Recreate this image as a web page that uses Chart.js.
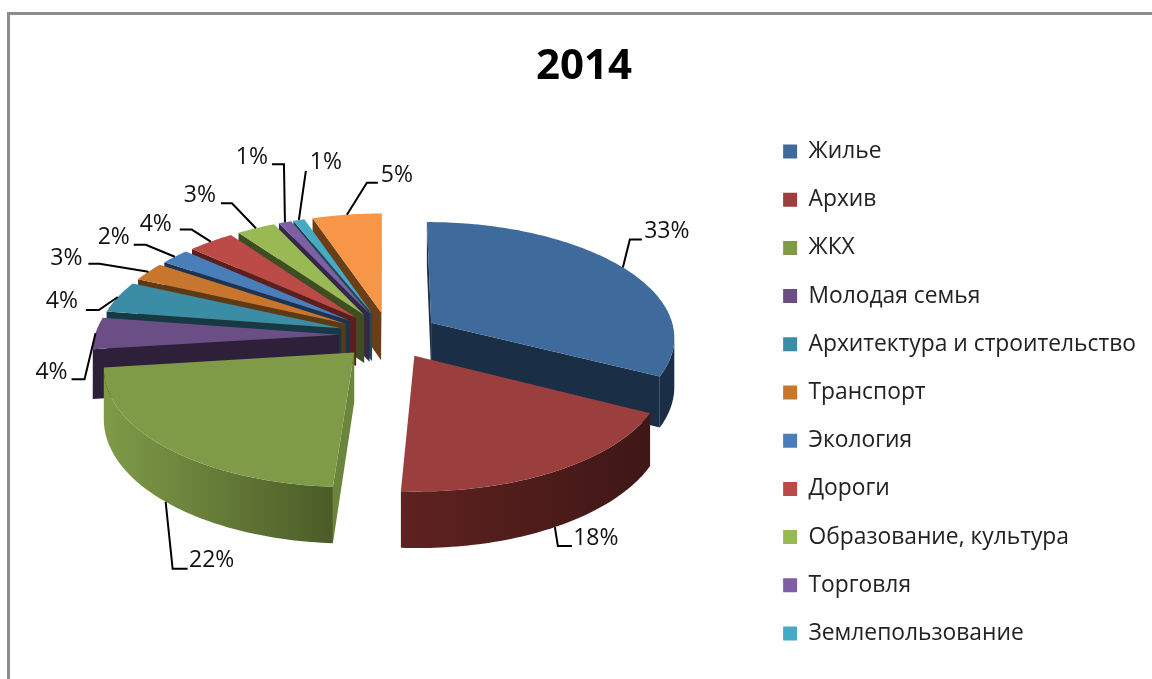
<!DOCTYPE html>
<html>
<head>
<meta charset="utf-8">
<title>2014</title>
<script src="https://cdn.jsdelivr.net/npm/chart.js@4"></script>
<style>
  html, body { margin: 0; padding: 0; background: #fff; overflow: hidden; }
  #frame { position: absolute; left: 7px; top: 12px; width: 1145px; height: 667px; box-sizing: border-box;
           border-left: 3px solid #8c8c8c; border-top: 3px solid #8c8c8c; }
  #pie { position: absolute; left: 0; top: 0; }
</style>
</head>
<body>
<div id="frame"></div>
<canvas id="pie" width="1152" height="679"></canvas>
<script>
const categories = ["Жилье", "Архив", "ЖКХ", "Молодая семья", "Архитектура и строительство", "Транспорт",
  "Экология", "Дороги", "Образование, культура", "Торговля", "Землепользование", ""];
// printed labels are whole percents, the slice widths read a bit finer than that
const shares = [32.5, 18.45, 22.05, 4.4, 4.4, 2.6, 2.2, 3.5, 2.9, 0.95, 0.85, 5.2];

const topColors = ["#3f6a9c", "#9a3f3d", "#7f9b48", "#6b4e85", "#3b8da5", "#c8762e",
  "#4a7ebb", "#bc4b48", "#98b954", "#7e5fa3", "#46aac4", "#f79646"];
const wallLeft = ["#1a2e46", "#5e2220", "#7f9b48", "#2e2038", "#173944", "#5e3a14",
  "#1c3450", "#5a1f1e", "#3e4d22", "#35274a", "#1d4a55", "#6a3f18"];
const wallRight = ["#1a2e46", "#3f1716", "#4b5c28", "#2e2038", "#173944", "#5e3a14",
  "#1c3450", "#5a1f1e", "#3e4d22", "#35274a", "#1d4a55", "#6a3f18"];
const cutColors = ["#1a2e46", "#451a19", "#6c853c", "#2e2038", "#173944", "#5e3a14",
  "#1c3450", "#5a1f1e", "#3e4d22", "#35274a", "#1d4a55", "#6a3f18"];

// leader line for each label: elbow and end relative to the slice edge, then text relative to the end
const leaderElbow = [[7,-28],[3,19],[7,67],[-11,46],[-19,13],[-49,-8],[-29,-12],[-19,-12],[-24,-25],[-1,-58],[7,-49],[20,-32]];
const leaderEnd = [[19,-28],[17,19],[22,67],[-24,46],[-32,13],[-60,-8],[-41,-12],[-31,-12],[-35,-25],[-13,-58],[7,-49],[31,-32]];
const labelShift = [[25,-8],[24,-8],[24,-8],[-20,-7],[-24,-9],[-22,-5],[-20,-7],[-24,-5],[-21,-8],[-20,-7],[20,-8],[19,-7]];

// view of the pie: centre on the page, tilt, camera distance, thickness
const view = { cx: 389, cy: 335, tilt: 0.471, camera: 2136, depth: 49 };
const legendShift = { x: -6, y: 53 };

function project(u, v) {
  const s = view.camera / (view.camera - v);
  return { x: view.cx + u * s, y: view.cy + view.tilt * v * s, drop: view.depth * s };
}

function fillWall(ctx, pts, fill) {
  ctx.beginPath();
  pts.forEach(function(p, i) { i ? ctx.lineTo(p.x, p.y) : ctx.moveTo(p.x, p.y); });
  for (let i = pts.length - 1; i >= 0; i--) ctx.lineTo(pts[i].x, pts[i].y + pts[i].drop);
  ctx.closePath();
  ctx.fillStyle = fill;
  ctx.fill();
}

function sliceGeometry(arc) {
  const mid = (arc.startAngle + arc.endAngle) / 2;
  const shift = arc.options.offset / 4;
  const ox = Math.cos(mid) * shift, oy = Math.sin(mid) * shift;
  const r = arc.outerRadius;
  const outer = [];
  const steps = Math.max(2, Math.ceil((arc.endAngle - arc.startAngle) / 0.02));
  for (let i = 0; i <= steps; i++) {
    const a = arc.startAngle + (arc.endAngle - arc.startAngle) * i / steps;
    outer.push(project(ox + Math.cos(a) * r, oy + Math.sin(a) * r));
  }
  return { apex: project(ox, oy), outer: outer, mid: project(ox + Math.cos(mid) * r, oy + Math.sin(mid) * r), front: Math.sin(mid) };
}

function drawSlice(ctx, arc, i) {
  const g = sliceGeometry(arc);
  const first = g.outer[0], last = g.outer[g.outer.length - 1];

  // faces looking to the viewer are the ones whose top edge runs right to left
  if (first.x < g.apex.x) fillWall(ctx, [g.apex, first], cutColors[i]);
  if (last.x > g.apex.x) fillWall(ctx, [last, g.apex], cutColors[i]);

  let run = [];
  const flush = function() {
    if (run.length > 1) {
      const xs = run.map(function(p) { return p.x; });
      const grad = ctx.createLinearGradient(Math.min.apply(null, xs), 0, Math.max.apply(null, xs), 0);
      grad.addColorStop(0, wallLeft[i]);
      grad.addColorStop(1, wallRight[i]);
      fillWall(ctx, run, grad);
    }
    run = [];
  };
  for (let k = 0; k < g.outer.length - 1; k++) {
    if (g.outer[k + 1].x < g.outer[k].x) {
      if (!run.length) run.push(g.outer[k]);
      run.push(g.outer[k + 1]);
    } else {
      flush();
    }
  }
  flush();

  ctx.beginPath();
  ctx.moveTo(g.apex.x, g.apex.y);
  g.outer.forEach(function(p) { ctx.lineTo(p.x, p.y); });
  ctx.closePath();
  ctx.fillStyle = topColors[i];
  ctx.fill();
}

function drawLabel(ctx, arc, i) {
  const g = sliceGeometry(arc);
  const sx = g.mid.x;
  const sy = g.front > 0.5 ? g.mid.y + g.mid.drop : g.mid.y;
  const ex = sx + leaderEnd[i][0], ey = sy + leaderEnd[i][1];
  ctx.beginPath();
  ctx.moveTo(sx, sy);
  ctx.lineTo(sx + leaderElbow[i][0], sy + leaderElbow[i][1]);
  ctx.lineTo(ex, ey);
  ctx.strokeStyle = "#000";
  ctx.lineWidth = 2;
  ctx.stroke();
  ctx.fillStyle = "#111";
  ctx.font = "23px 'Open Sans'";
  ctx.textAlign = "center";
  ctx.textBaseline = "middle";
  ctx.fillText(Math.round(shares[i]) + "%", ex + labelShift[i][0], ey + labelShift[i][1]);
}

const tiltedPie = {
  id: "tiltedPie",
  afterLayout(chart) {
    const lg = chart.legend;
    lg.left += legendShift.x; lg.right += legendShift.x;
    lg.top += legendShift.y; lg.bottom += legendShift.y;
  },
  beforeDatasetsDraw(chart) {
    const ctx = chart.ctx;
    const arcs = chart.getDatasetMeta(0).data;
    const order = arcs.map(function(a, i) { return i; }).sort(function(a, b) {
      return Math.sin((arcs[a].startAngle + arcs[a].endAngle) / 2) - Math.sin((arcs[b].startAngle + arcs[b].endAngle) / 2);
    });
    ctx.save();
    order.forEach(function(i) { drawSlice(ctx, arcs[i], i); });
    arcs.forEach(function(a, i) { drawLabel(ctx, a, i); });
    ctx.restore();
    return false;
  }
};

new Chart(document.getElementById("pie"), {
  type: "pie",
  data: {
    labels: categories,
    datasets: [{
      data: shares,
      backgroundColor: topColors,
      borderWidth: 0,
      offset: 200,
      radius: 244
    }]
  },
  options: {
    responsive: false,
    animation: false,
    layout: { padding: { left: 16, right: 0, bottom: 0 } },
    plugins: {
      tooltip: { enabled: false },
      title: {
        display: true,
        text: "2014",
        color: "#000",
        font: { family: "'Open Sans'", size: 42, weight: "bold" },
        padding: { top: 42, bottom: 24 }
      },
      legend: {
        position: "right",
        labels: {
          color: "#222",
          boxWidth: 14,
          boxHeight: 14,
          padding: 25.4,
          font: { family: "'Open Sans'", size: 22.8 },
          filter: function(item) { return item.text !== ""; }
        }
      }
    }
  },
  plugins: [tiltedPie]
});
</script>
</body>
</html>
